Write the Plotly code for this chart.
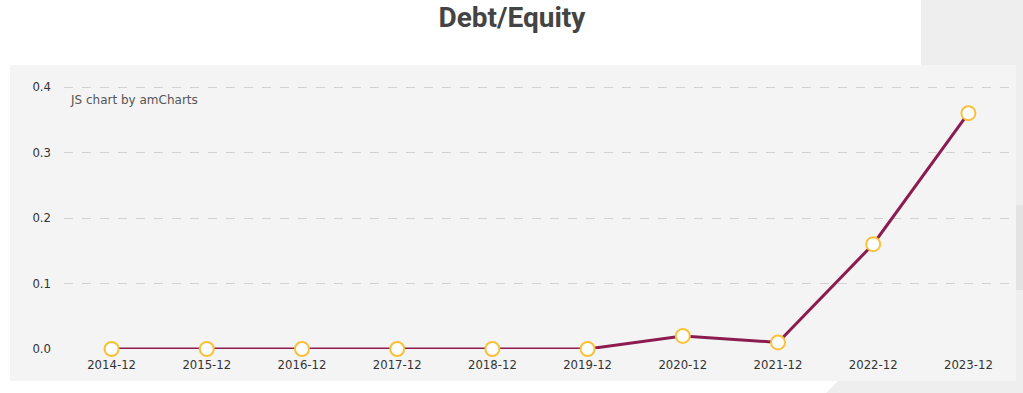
import plotly.graph_objects as go

categories = ["2014-12", "2015-12", "2016-12", "2017-12", "2018-12",
              "2019-12", "2020-12", "2021-12", "2022-12", "2023-12"]
debt_equity = [0.0, 0.0, 0.0, 0.0, 0.0, 0.0, 0.02, 0.01, 0.16, 0.36]
y_ticks = [0.0, 0.1, 0.2, 0.3, 0.4]
y_tick_labels = ["0.0", "0.1", "0.2", "0.3", "0.4"]

W, H = 1023, 393
L, R, T, B = 64, 7, 65, 44
pw, ph = W - L - R, H - T - B

def px(x):
    return (x - L) / pw

def py(y):
    return (H - B - y) / ph

fig = go.Figure()
fig.add_trace(go.Scatter(
    x=categories, y=debt_equity, mode="lines+markers",
    line=dict(color="#8c1c50", width=3),
    marker=dict(size=14, color="#ffffff", line=dict(color="#f8c13a", width=2)),
    cliponaxis=False, hoverinfo="x+y", showlegend=False,
))

shapes = [
    # gray page region on the right
    dict(type="rect", xref="paper", yref="paper", x0=px(921), x1=px(1023), y0=py(393), y1=py(0),
         fillcolor="#eeeeee", line=dict(width=0), layer="below"),
    dict(type="path", xref="paper", yref="paper",
         path=f"M {px(838)} {py(381)} L {px(1023)} {py(381)} L {px(1023)} {py(393)} L {px(826)} {py(393)} Z",
         fillcolor="#eeeeee", line=dict(width=0), layer="below"),
    dict(type="rect", xref="paper", yref="paper", x0=px(1016), x1=px(1023), y0=py(290), y1=py(205),
         fillcolor="#e3e3e3", line=dict(width=0), layer="below"),
    # chart panel
    dict(type="rect", xref="paper", yref="paper", x0=px(10), x1=px(1016), y0=py(381), y1=py(65),
         fillcolor="#f4f4f4", line=dict(width=0), layer="below"),
]

fig.update_layout(
    width=W, height=H,
    margin=dict(l=L, r=R, t=T, b=B),
    paper_bgcolor="#ffffff",
    plot_bgcolor="rgba(0,0,0,0)",
    shapes=shapes,
    title=dict(text="<b>Debt/Equity</b>", x=512 / W, xref="container", xanchor="center",
               y=1 - 17 / H, yref="container", yanchor="middle",
               font=dict(family="Roboto", size=28, color="#444444")),
    xaxis=dict(type="category", range=[-0.5, 9.5], showgrid=False, zeroline=False,
               showline=False, ticks="", ticklabelstandoff=7,
               tickfont=dict(family="DejaVu Sans", size=11.7, color="#333333"),
               fixedrange=True),
    yaxis=dict(range=[0, 0.4 + 22 / 655], tickvals=y_ticks, ticktext=y_tick_labels,
               showgrid=True, gridcolor="#d2d2d2", griddash="dash", gridwidth=1,
               zeroline=False, showline=False, ticks="", ticklabelstandoff=12,
               tickfont=dict(family="DejaVu Sans", size=11.7, color="#333333"), fixedrange=True),
    annotations=[dict(text="JS chart by amCharts", xref="paper", yref="paper",
                      x=px(68), y=py(100), xanchor="left", yanchor="middle", showarrow=False,
                      font=dict(family="DejaVu Sans", size=12, color="#555555"))],
)

fig.write_html("out.html", config={"displayModeBar": False},
               post_script="document.body.style.margin='0';")
